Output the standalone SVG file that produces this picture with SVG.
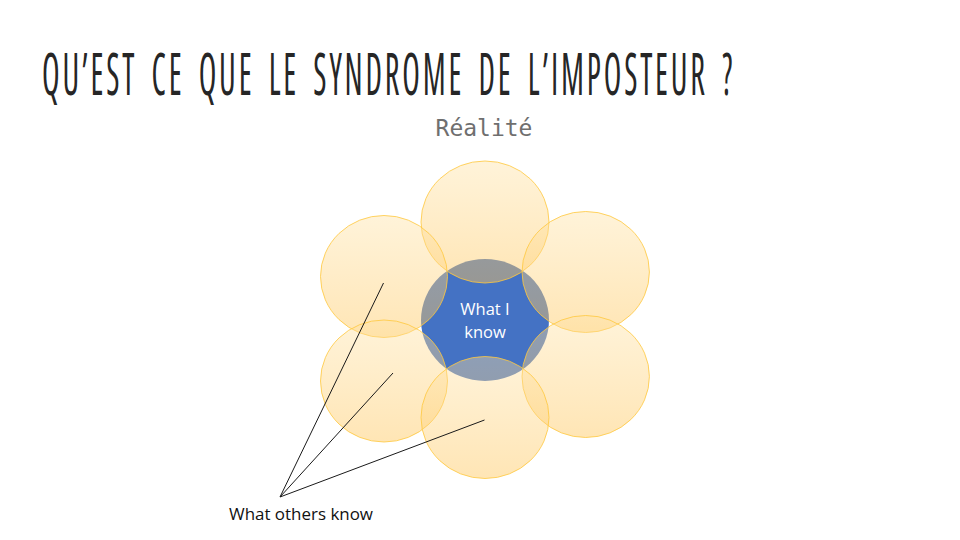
<svg xmlns="http://www.w3.org/2000/svg" width="960" height="540" viewBox="0 0 960 540">
  <style>
    .title { font-family: "Open Sans", "Liberation Sans Narrow", "DejaVu Sans Condensed", sans-serif; font-size: 58px; font-weight: 400; font-stretch: condensed; letter-spacing: 5px; word-spacing: 10px; fill: #262626; }
    .sub { font-family: "DejaVu Sans Mono", "Liberation Mono", monospace; font-size: 23px; fill: #6f6f6f; }
    .petal { fill: url(#petalFill); stroke: #FFC83D; stroke-opacity: 0.8; stroke-width: 1; }
    .core { fill: #4472C4; }
    .coreText { font-family: "Open Sans", "Noto Sans", sans-serif; font-size: 16.5px; fill: #ffffff; text-anchor: middle; }
    .leader { stroke: #1a1a1a; stroke-width: 1; fill: none; }
    .label { font-family: "Open Sans", "Noto Sans", sans-serif; font-size: 16.5px; fill: #111111; }
  </style>
  <defs>
    <linearGradient id="petalFill" x1="0" y1="0" x2="0" y2="1">
      <stop offset="0" stop-color="#FFE1A0" stop-opacity="0.4"/>
      <stop offset="1" stop-color="#FFC65A" stop-opacity="0.45"/>
    </linearGradient>
  </defs>

  <rect width="960" height="540" fill="#ffffff"/>

  <text class="title" x="42" y="95" textLength="693" lengthAdjust="spacingAndGlyphs">QU’EST CE QUE LE SYNDROME DE L’IMPOSTEUR ?</text>
  <text class="sub" x="484" y="136" text-anchor="middle">Réalité</text>

  <!-- centre: what I know -->
  <g id="core">
    <ellipse class="core" cx="485" cy="320" rx="64" ry="61"/>
  </g>

  <!-- surrounding circles: what others know -->
  <g id="petal-top"><ellipse class="petal" cx="485" cy="222" rx="64" ry="61"/></g>
  <g id="petal-upper-left"><ellipse class="petal" cx="384" cy="276.5" rx="63.5" ry="61"/></g>
  <g id="petal-upper-right"><ellipse class="petal" cx="585.7" cy="272" rx="63.7" ry="60.5"/></g>
  <g id="petal-lower-left"><ellipse class="petal" cx="384" cy="381" rx="63.5" ry="61"/></g>
  <g id="petal-lower-right"><ellipse class="petal" cx="585.7" cy="376.5" rx="63.7" ry="61"/></g>
  <g id="petal-bottom"><ellipse class="petal" cx="485" cy="417.5" rx="64" ry="61"/></g>

  <g id="core-label">
    <text class="coreText" x="485" y="315">What I</text>
    <text class="coreText" x="485" y="338">know</text>
  </g>

  <!-- leader lines from the label to the outer circles -->
  <g id="connectors">
    <line class="leader" x1="280" y1="497" x2="383.5" y2="283"/>
    <line class="leader" x1="280" y1="497" x2="393" y2="373"/>
    <line class="leader" x1="280" y1="497" x2="484.5" y2="420"/>
  </g>

  <g id="others-label">
    <text class="label" x="229" y="520" textLength="144" lengthAdjust="spacingAndGlyphs">What others know</text>
  </g>
</svg>
